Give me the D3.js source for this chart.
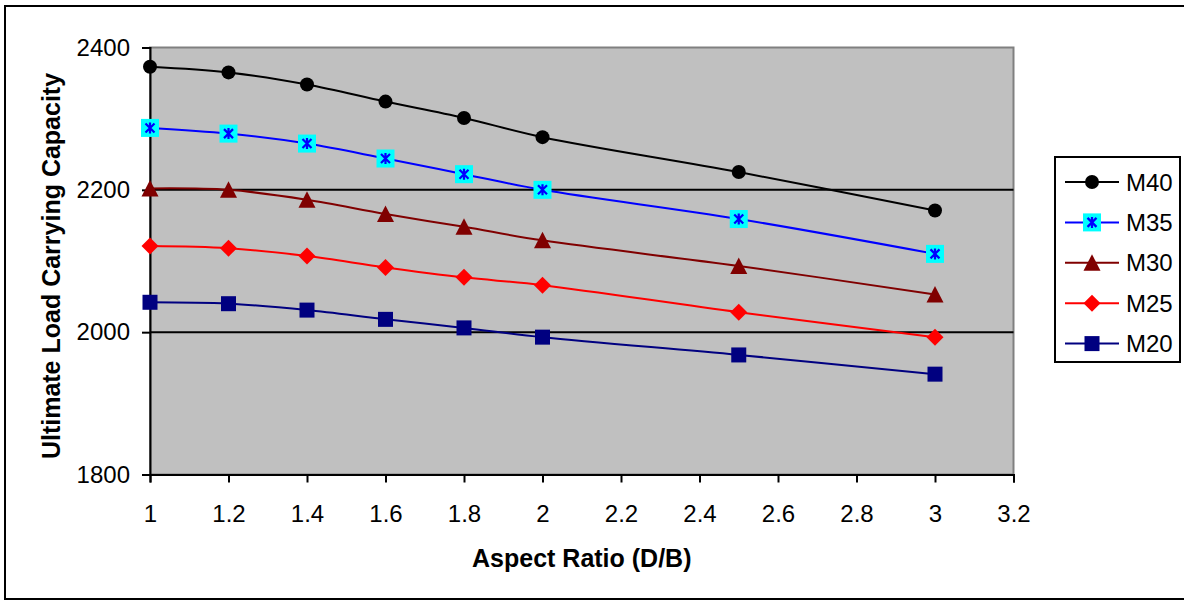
<!DOCTYPE html>
<html>
<head>
<meta charset="utf-8">
<script src="https://cdn.jsdelivr.net/npm/d3@7"></script>
<style>
  html, body { margin: 0; padding: 0; background: #fff; }
  svg { display: block; font-family: "Liberation Sans", Arial, sans-serif; }
</style>
</head>
<body>
<svg id="chart" width="1184" height="601"></svg>
<script>
// Aspect ratio (D/B) values along the x axis
const aspectRatios = [1, 1.2, 1.4, 1.6, 1.8, 2, 2.5, 3];

// Ultimate load carrying capacity per concrete grade
const m40 = [2373, 2365, 2348, 2324, 2301, 2274, 2225, 2171];
const m35 = [2287, 2279, 2265, 2244, 2222, 2200, 2159, 2110];
const m30 = [2202, 2200, 2186, 2166, 2148, 2129, 2093, 2053];
const m25 = [2121, 2118, 2107, 2091, 2077, 2066, 2028, 1993];
const m20 = [2042, 2040, 2031, 2018, 2006, 1993, 1968, 1941];

const seriesNames = ["M40", "M35", "M30", "M25", "M20"];
const xTicks = [1, 1.2, 1.4, 1.6, 1.8, 2, 2.2, 2.4, 2.6, 2.8, 3, 3.2];
const yTicks = [1800, 2000, 2200, 2400];

const series = [
  { name: seriesNames[0], values: m40, line: "#000000", marker: "circle" },
  { name: seriesNames[1], values: m35, line: "#0000FF", marker: "star" },
  { name: seriesNames[2], values: m30, line: "#800000", marker: "triangle" },
  { name: seriesNames[3], values: m25, line: "#FF0000", marker: "diamond" },
  { name: seriesNames[4], values: m20, line: "#000080", marker: "square" }
];

const svg = d3.select("#chart");
const plot = { left: 150, top: 47.5, right: 1013.5, bottom: 474.5 };

const x = d3.scaleLinear().domain([1, 3.2]).range([plot.left, plot.right]);
const y = d3.scaleLinear().domain([1800, 2400]).range([plot.bottom, plot.top]);

// Outer chart frame
svg.append("rect")
  .attr("x", 5).attr("y", 6).attr("width", 1190).attr("height", 593)
  .attr("fill", "#fff").attr("stroke", "#000").attr("stroke-width", 2);

// Plot background
svg.append("rect")
  .attr("x", plot.left).attr("y", plot.top)
  .attr("width", plot.right - plot.left).attr("height", plot.bottom - plot.top)
  .attr("fill", "#C0C0C0").attr("stroke", "#808080").attr("stroke-width", 2);

// Horizontal gridlines
svg.append("g")
  .selectAll("line")
  .data(yTicks.filter(t => t > 1800 && t < 2400))
  .join("line")
  .attr("x1", plot.left).attr("x2", plot.right)
  .attr("y1", d => y(d)).attr("y2", d => y(d))
  .attr("stroke", "#000").attr("stroke-width", 2);

// Y axis
const yAxis = svg.append("g")
  .attr("transform", `translate(${plot.left},0)`)
  .call(d3.axisLeft(y).tickValues(yTicks).tickSize(8).tickPadding(12).tickFormat(d3.format("d")));
yAxis.select(".domain").attr("stroke", "#000").attr("stroke-width", 2);
yAxis.selectAll(".tick line").attr("stroke", "#000").attr("stroke-width", 2);
yAxis.selectAll(".tick text")
  .attr("font-size", 24).attr("fill", "#000")
  .attr("font-family", "Liberation Sans, Arial, sans-serif");

// X axis
const xAxis = svg.append("g")
  .attr("transform", `translate(0,${plot.bottom})`)
  .call(d3.axisBottom(x).tickValues(xTicks).tickSize(8).tickPadding(22).tickFormat(d => String(+d.toFixed(1))));
xAxis.select(".domain").attr("stroke", "#000").attr("stroke-width", 2);
xAxis.selectAll(".tick line").attr("stroke", "#000").attr("stroke-width", 2);
xAxis.selectAll(".tick text")
  .attr("font-size", 24).attr("fill", "#000")
  .attr("font-family", "Liberation Sans, Arial, sans-serif");

// Axis titles
svg.append("text")
  .attr("x", (plot.left + plot.right) / 2).attr("y", 567)
  .attr("text-anchor", "middle")
  .attr("font-size", 25).attr("font-weight", "bold")
  .text("Aspect Ratio (D/B)");

svg.append("text")
  .attr("transform", `translate(60,${(plot.top + plot.bottom) / 2 + 5}) rotate(-90)`)
  .attr("text-anchor", "middle")
  .attr("font-size", 25).attr("font-weight", "bold")
  .text("Ultimate Load Carrying Capacity");

// Marker drawing
function drawMarker(g, type, color) {
  if (type === "circle") {
    g.append("circle").attr("r", 7).attr("fill", "#000");
  } else if (type === "star") {
    g.append("rect").attr("x", -9).attr("y", -9).attr("width", 18).attr("height", 18).attr("fill", "#00FFFF");
    g.append("path")
      .attr("d", "M0,-5.5V5.5M-4.5,-4.5L4.5,4.5M-4.5,4.5L4.5,-4.5")
      .attr("stroke", "#0000FF").attr("stroke-width", 2.2).attr("fill", "none");
  } else if (type === "triangle") {
    g.append("path").attr("d", "M0,-8.5L8.5,8L-8.5,8Z").attr("fill", color);
  } else if (type === "diamond") {
    g.append("path").attr("d", "M0,-8.5L8.5,0L0,8.5L-8.5,0Z").attr("fill", color);
  } else if (type === "square") {
    g.append("rect").attr("x", -7.5).attr("y", -7.5).attr("width", 15).attr("height", 15).attr("fill", color);
  }
}

const line = d3.line()
  .x((d, i) => x(aspectRatios[i]))
  .y(d => y(d))
  .curve(d3.curveCatmullRom.alpha(0.5));

const seriesG = svg.append("g");
series.forEach(s => {
  seriesG.append("path")
    .attr("d", line(s.values))
    .attr("fill", "none").attr("stroke", s.line).attr("stroke-width", 2);
});
series.forEach(s => {
  s.values.forEach((v, i) => {
    const g = seriesG.append("g").attr("transform", `translate(${x(aspectRatios[i])},${y(v)})`);
    drawMarker(g, s.marker, s.line);
  });
});

// Legend
const legend = svg.append("g");
legend.append("rect")
  .attr("x", 1055).attr("y", 157).attr("width", 125).attr("height", 205)
  .attr("fill", "#fff").attr("stroke", "#000").attr("stroke-width", 2);
series.forEach((s, i) => {
  const cy = 182 + i * 40.4;
  const g = legend.append("g");
  g.append("line").attr("x1", 1065).attr("x2", 1119).attr("y1", cy).attr("y2", cy)
    .attr("stroke", s.line).attr("stroke-width", 2);
  drawMarker(g.append("g").attr("transform", `translate(1092,${cy})`), s.marker, s.line);
  g.append("text").attr("x", 1126).attr("y", cy + 8.5)
    .attr("font-size", 24).attr("fill", "#000").text(s.name);
});
</script>
</body>
</html>
